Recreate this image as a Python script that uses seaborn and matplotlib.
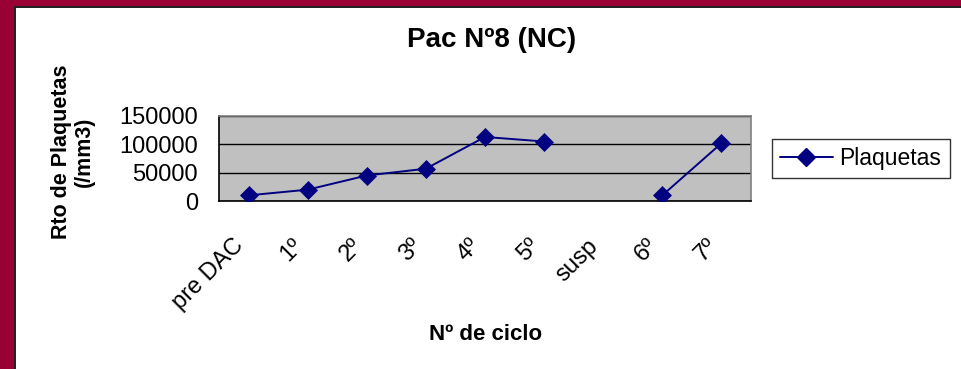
import numpy as np
import pandas as pd
import matplotlib
matplotlib.use("Agg")
import matplotlib.pyplot as plt
import seaborn as sns
from matplotlib.lines import Line2D
from matplotlib.patches import Rectangle
from matplotlib.transforms import ScaledTranslation

# ---- data ----
categories = ["pre DAC", "1º", "2º", "3º", "4º", "5º", "susp", "6º", "7º"]
plaquetas = [10000, 20000, 45000, 57000, 113000, 105000, np.nan, 10000, 102000]
yticks = [0, 50000, 100000, 150000]
ytick_labels = ["0", "50000", "100000", "150000"]
title = "Pac Nº8 (NC)"
xlabel = "Nº de ciclo"
ylabel = "Rto de Plaquetas\n(/mm3)"
series_name = "Plaquetas"

sns.set_style("white")
plt.rcParams["font.family"] = ["Liberation Sans", "DejaVu Sans"]
plt.rcParams["text.color"] = "black"
plt.rcParams["axes.labelcolor"] = "black"
plt.rcParams["xtick.color"] = "black"
plt.rcParams["ytick.color"] = "black"

W, H = 961, 369
fig = plt.figure(figsize=(W / 100, H / 100), dpi=100)
fig.patch.set_facecolor("white")

# maroon frame (left and top)
maroon = "#990033"
fig.patches.append(Rectangle((0, 0), 14 / W, 1, transform=fig.transFigure,
                             facecolor=maroon, edgecolor="none", zorder=0))
fig.patches.append(Rectangle((0, 1 - 6 / H), 1, 6 / H, transform=fig.transFigure,
                             facecolor=maroon, edgecolor="none", zorder=0))
fig.patches.append(Rectangle((14 / W, 0), 2 / W, 1 - 6 / H, transform=fig.transFigure,
                             facecolor="#222222", edgecolor="none", zorder=0))
fig.patches.append(Rectangle((14 / W, 1 - 7.5 / H), 1 - 14 / W, 1.5 / H, transform=fig.transFigure,
                             facecolor="#222222", edgecolor="none", zorder=0))

# axes (plot area)
x0, x1, y0, y1 = 219, 751, 116, 201
ax = fig.add_axes([x0 / W, 1 - y1 / H, (x1 - x0) / W, (y1 - y0) / H])
ax.set_facecolor("#C0C0C0")

vals = np.array(plaquetas, dtype=float)
df = pd.DataFrame({
    "pos": np.arange(len(categories)),
    "val": vals,
    "seg": np.cumsum(np.isnan(vals)),
}).dropna()

navy = "#000080"
sns.lineplot(data=df, x="pos", y="val", units="seg", estimator=None,
             color=navy, marker="D", markersize=9, markeredgecolor=navy,
             markeredgewidth=0.5, linewidth=1.4, legend=False, ax=ax, zorder=5)

ax.set_xlim(-0.5, len(categories) - 0.5)
ax.set_ylim(0, 150000)

ax.set_yticks(yticks)
ax.set_yticklabels(ytick_labels, fontsize=17)
ax.tick_params(axis="y", length=6, width=1, direction="out", pad=9, colors="black")

ax.set_xticks(np.arange(len(categories)))
ax.set_xticklabels(categories, fontsize=17)
ax.set_xticks(np.arange(-0.5, len(categories)), minor=True)
ax.tick_params(axis="x", which="major", length=0, pad=30, colors="black")
ax.tick_params(axis="x", which="minor", length=6, width=1, direction="out", color="black")
off = ScaledTranslation(-8 / 100, 0, fig.dpi_scale_trans)
for lbl in ax.get_xticklabels():
    lbl.set_rotation(45)
    lbl.set_ha("right")
    lbl.set_va("center")
    lbl.set_rotation_mode("anchor")
    lbl.set_transform(lbl.get_transform() + off)

ax.set_xlabel("")
ax.set_ylabel("")

ax.set_axisbelow(True)
ax.yaxis.grid(True, color="black", linewidth=1)
ax.xaxis.grid(False)

for s in ["left", "bottom"]:
    ax.spines[s].set_color("black")
    ax.spines[s].set_linewidth(1.2)
for s in ["top", "right"]:
    ax.spines[s].set_color("#808080")
    ax.spines[s].set_linewidth(1.2)

# texts
fig.text(492 / W, 1 - 40 / H, title, ha="center", va="center",
         fontsize=20, fontweight="bold", color="black")
fig.text(486 / W, 1 - 334 / H, xlabel, ha="center", va="center",
         fontsize=16, fontweight="bold", color="black")
fig.text(73 / W, 1 - 152 / H, ylabel, ha="center", va="center", rotation=90,
         fontsize=15.5, fontweight="bold", linespacing=1.1, multialignment="center",
         color="black")

# legend
handle = Line2D([], [], color=navy, marker="D", markersize=9, markeredgecolor=navy,
                linewidth=1.4)
leg = fig.legend(handles=[handle], labels=[series_name], loc="upper left",
                 bbox_to_anchor=(772 / W, 1 - 139 / H), borderaxespad=0,
                 fontsize=16.5, frameon=True, fancybox=False, shadow=False,
                 handlelength=2.3, handletextpad=0.3, borderpad=0.35)
leg.get_frame().set_edgecolor("black")
leg.get_frame().set_linewidth(1)
leg.get_frame().set_facecolor("white")
for t in leg.get_texts():
    t.set_color("black")

fig.savefig("out.png", dpi=100)
